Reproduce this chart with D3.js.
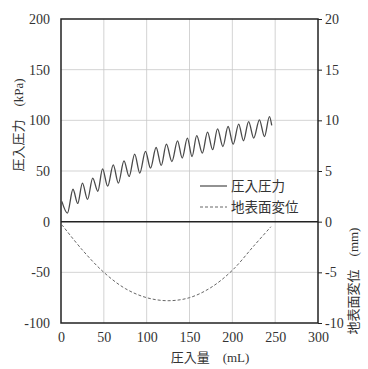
<!DOCTYPE html>
<meta charset="utf-8">
<script src="https://d3js.org/d3.v7.min.js"></script>
<style>
  body { margin: 0; background: #fff; }
</style>
<div id="chart"></div>
<script>

// injection volume (mL) at peaks / troughs of the pressure trace
var volume   = [1, 7.5, 14, 19.5, 25, 31, 37, 43, 48.5, 54.5, 61, 67, 73.5, 79.5, 86, 92, 98.6, 104.5, 111, 117,
                123, 129.5, 136, 141.5, 147.5, 153, 158.4, 165, 171, 177, 182.7, 189, 195, 201, 207.4, 213,
                219, 225, 231.6, 237.5, 243.3, 246];
// injection pressure (kPa)
var pressure = [20, 8.5, 32, 18, 38, 22, 43, 30, 52, 35, 56, 38, 60, 44.6, 66.7, 48, 69.3, 52.9, 73.2, 55.5,
                76.5, 59.4, 79.8, 62.8, 82.5, 64.3, 85, 67.7, 88.4, 71, 91.6, 74.2, 93.9, 76.5, 96.3, 79.8,
                98.8, 82.5, 100.5, 84, 103.7, 95];

// ground surface displacement (mm)
var dispVolume = [1, 25, 50, 75, 100, 125, 150, 175, 200, 225, 245];
var displacement = [-0.3, -2.8, -5.0, -6.6, -7.5, -7.8, -7.5, -6.5, -4.8, -2.4, -0.5];

var xTicks = [0, 50, 100, 150, 200, 250, 300];
var leftTicks = [-100, -50, 0, 50, 100, 150, 200];
var rightTicks = [-10, -5, 0, 5, 10, 15, 20];

var SERIF = "'Liberation Serif', 'Times New Roman', serif";
var JP = "'Noto Sans CJK JP', sans-serif";

var W = 368, H = 369;
var L = 61, R = 318, T = 19, B = 323;

var svg = d3.select("#chart").append("svg")
  .attr("width", W).attr("height", H);

var x = d3.scaleLinear().domain([0, 300]).range([L, R]);
var y = d3.scaleLinear().domain([-100, 200]).range([B, T]);
var y2 = d3.scaleLinear().domain([-10, 20]).range([B, T]);

// grid
svg.append("g")
  .selectAll("line")
  .data(xTicks.slice(1, -1))
  .enter().append("line")
    .attr("x1", d => x(d)).attr("x2", d => x(d))
    .attr("y1", T).attr("y2", B)
    .attr("stroke", "#c8c8c8").attr("stroke-width", 0.8);
svg.append("g")
  .selectAll("line")
  .data(leftTicks.filter(d => d != 0 && d != -100 && d != 200))
  .enter().append("line")
    .attr("x1", L).attr("x2", R)
    .attr("y1", d => y(d)).attr("y2", d => y(d))
    .attr("stroke", "#c8c8c8").attr("stroke-width", 0.8);

// zero line
svg.append("line")
  .attr("x1", L).attr("x2", R)
  .attr("y1", y(0)).attr("y2", y(0))
  .attr("stroke", "#222").attr("stroke-width", 1.5);

// frame
svg.append("rect")
  .attr("x", L).attr("y", T)
  .attr("width", R - L).attr("height", B - T)
  .attr("fill", "none").attr("stroke", "#222").attr("stroke-width", 1.5);

function styleNums(g) {
  g.select(".domain").remove();
  g.selectAll("text")
    .style("font-family", SERIF)
    .style("font-size", "14px")
    .attr("fill", "#333");
}
var fmt = d => String(d);

// left axis labels
var gl = svg.append("g")
  .attr("transform", "translate(" + L + ",0)")
  .call(d3.axisLeft(y).tickValues(leftTicks).tickFormat(fmt).tickSize(0).tickPadding(11));
styleNums(gl);

// right axis
var gr = svg.append("g")
  .attr("transform", "translate(" + R + ",0)")
  .call(d3.axisRight(y2).tickValues(rightTicks).tickFormat(fmt).tickSize(4).tickPadding(3));
styleNums(gr);
gr.selectAll("line").attr("stroke", "#222");

// bottom axis labels
var gb = svg.append("g")
  .attr("transform", "translate(0," + B + ")")
  .call(d3.axisBottom(x).tickValues(xTicks).tickFormat(fmt).tickSize(0).tickPadding(9));
styleNums(gb);

// pressure line
var pts = volume.map((v, i) => [v, pressure[i]]);
svg.append("path")
  .datum(pts)
  .attr("fill", "none")
  .attr("stroke", "#4a4a4a")
  .attr("stroke-width", 1.3)
  .attr("d", d3.line().x(d => x(d[0])).y(d => y(d[1])).curve(d3.curveMonotoneX));

// displacement line
var dpts = dispVolume.map((v, i) => [v, displacement[i]]);
svg.append("path")
  .datum(dpts)
  .attr("fill", "none")
  .attr("stroke", "#666")
  .attr("stroke-width", 1)
  .attr("stroke-dasharray", "3,2")
  .attr("d", d3.line().x(d => x(d[0])).y(d => y2(d[1])).curve(d3.curveCatmullRom));

// legend
svg.append("line").attr("x1", 200).attr("x2", 227).attr("y1", 186).attr("y2", 186)
  .attr("stroke", "#4a4a4a").attr("stroke-width", 1.2);
svg.append("text").attr("x", 231).attr("y", 191)
  .style("font-family", JP).style("font-size", "13.5px").attr("fill", "#333").text("圧入圧力");
svg.append("line").attr("x1", 200).attr("x2", 227).attr("y1", 207).attr("y2", 207)
  .attr("stroke", "#666").attr("stroke-width", 1).attr("stroke-dasharray", "3,2");
svg.append("text").attr("x", 231).attr("y", 212)
  .style("font-family", JP).style("font-size", "13.5px").attr("fill", "#333").text("地表面変位");

// axis titles
function title(tx, jp, unit) {
  var t = svg.append("text").attr("transform", tx).attr("text-anchor", "middle").attr("fill", "#333");
  t.append("tspan").style("font-family", JP).style("font-size", "13px").text(jp + "　");
  t.append("tspan").style("font-family", SERIF).style("font-size", "13px").text(unit);
}
title("translate(210,362)", "圧入量", "(mL)");
title("translate(23,125) rotate(-90)", "圧入圧力", "(kPa)");
title("translate(358,281) rotate(-90)", "地表面変位", "(mm)");

</script>
